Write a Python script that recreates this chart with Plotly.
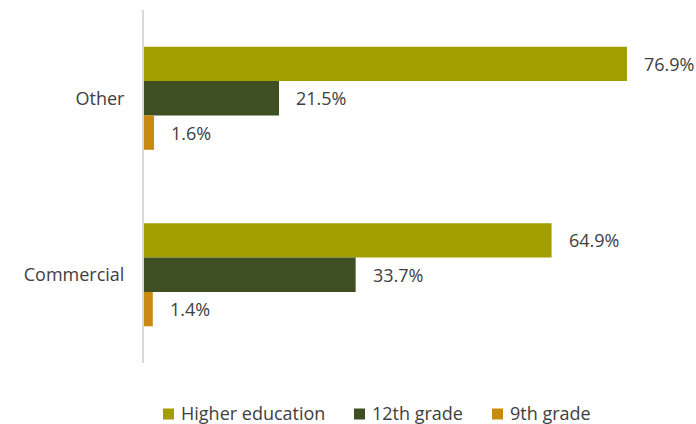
import plotly.graph_objects as go

categories = ["Other", "Commercial"]
series_names = ["Higher education", "12th grade", "9th grade"]
higher_education = [76.9, 64.9]
grade_12 = [21.5, 33.7]
grade_9 = [1.6, 1.4]
colors = ["#A29D00", "#3E5022", "#C88A12"]

series_values = [higher_education, grade_12, grade_9]

W, H = 696, 424
M_L, M_R, M_T, M_B = 144, 0, 10, 61
PW, PH = W - M_L - M_R, H - M_T - M_B
TXT = "#404040"
FONT = "Open Sans"


def px_x(px):
    return (px - M_L) / PW


def px_y(py):
    return (H - M_B - py) / PH


fig = go.Figure()
for name, vals, col in zip(series_names, series_values, colors):
    fig.add_trace(go.Bar(
        y=categories, x=vals, name=name, orientation="h",
        marker=dict(color=col, line=dict(width=0)),
        hoverinfo="skip", showlegend=False,
    ))

# value labels just right of each bar
bar_h = 34.3
for i, vals in enumerate(series_values):
    for j, cat in enumerate(categories):
        fig.add_annotation(
            x=vals[j], y=cat, text=f"{vals[j]:.1f}%",
            xanchor="left", yanchor="middle", showarrow=False,
            xshift=15, yshift=(1 - i) * bar_h,
            font=dict(size=18, color=TXT, family=FONT),
        )

# legend row below the plot: square swatch + series name
legend_sq_x = [163, 354, 492]
legend_cy = 414
for name, col, sx in zip(series_names, colors, legend_sq_x):
    fig.add_shape(
        type="rect", xref="paper", yref="paper",
        x0=px_x(sx), x1=px_x(sx + 11),
        y0=px_y(legend_cy + 5.5), y1=px_y(legend_cy - 5.5),
        fillcolor=col, line=dict(width=0),
    )
    fig.add_annotation(
        xref="paper", yref="paper", x=px_x(sx + 16), y=px_y(legend_cy - 1),
        text=name, showarrow=False, xanchor="left", yanchor="middle",
        font=dict(size=18, color=TXT, family=FONT),
    )

fig.update_layout(
    width=W, height=H,
    margin=dict(l=M_L, r=M_R, t=M_T, b=M_B),
    barmode="group", bargap=0.416, bargroupgap=0,
    plot_bgcolor="white", paper_bgcolor="white",
    font=dict(family=FONT, size=18, color=TXT),
    showlegend=False,
    xaxis=dict(range=[0, PW / 6.28], showgrid=False, zeroline=False,
               showticklabels=False, showline=False, fixedrange=True),
    yaxis=dict(autorange="reversed", showline=True, linecolor="#D9D9D9",
               linewidth=2, ticks="", showgrid=False,
               ticklabelstandoff=14, fixedrange=True),
)

fig.write_html("out.html")
